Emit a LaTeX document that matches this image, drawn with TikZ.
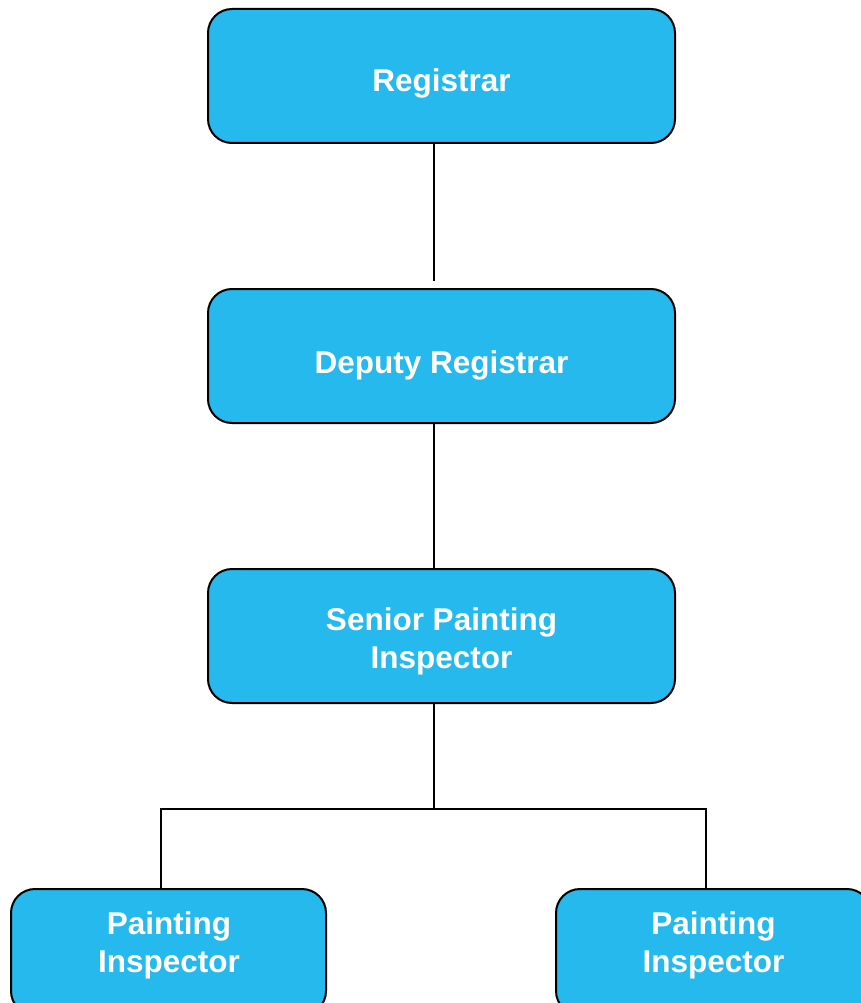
\documentclass[tikz,border=0pt]{standalone}
\usepackage{fontspec}
\setmainfont{Liberation Sans}
\definecolor{boxblue}{RGB}{38,185,237}
\begin{document}
\begin{tikzpicture}[x=1pt,y=-1pt,
  box/.style={draw=black, line width=2pt, fill=boxblue, rounded corners=24pt, inner sep=0pt},
  topbox/.style={box, minimum width=467pt, minimum height=134pt},
  lowbox/.style={box, minimum width=315pt, minimum height=126pt},
  lbl/.style={text=white, font=\bfseries\fontsize{31.5}{38.5}\selectfont, align=center, inner sep=0pt},
  conn/.style={draw=black, line width=2pt}]
\useasboundingbox (0,0) rectangle (861,1003);
\begin{scope}
\clip (0,0) rectangle (861,1003);
% boxes
\node[topbox] (reg) at (441.5,76) {};
\node[topbox] (dep) at (441.5,356) {};
\node[topbox] (sen) at (441.5,636) {};
\node[lowbox] (pl) at (168.5,952) {};
\node[lowbox] (pr) at (713.5,952) {};
% labels
\node[lbl, anchor=base] (regt) at (441.5,92) {Registrar};
\node[lbl, anchor=base] (dept) at (441.5,373) {Deputy Registrar};
\node[lbl] (sent) at (441.5,641.3) {Senior Painting\\Inspector};
\node[lbl] (plt) at (169,945.5) {Painting\\Inspector};
\node[lbl] (prt) at (713.5,945.5) {Painting\\Inspector};
% connectors
\coordinate (j) at ([xshift=-7.5pt]sen.south |- 0,809);
\draw[conn] ([xshift=-7.5pt]reg.south) -- ([xshift=-7.5pt,yshift=7pt]dep.north);
\draw[conn] ([xshift=-7.5pt]dep.south) -- ([xshift=-7.5pt]sen.north);
\draw[conn] ([xshift=-7.5pt]sen.south) -- (j);
\draw[conn] ([xshift=-7.5pt]pl.north) |- (j) -| ([xshift=-7.5pt]pr.north);
\end{scope}
\end{tikzpicture}
\end{document}
